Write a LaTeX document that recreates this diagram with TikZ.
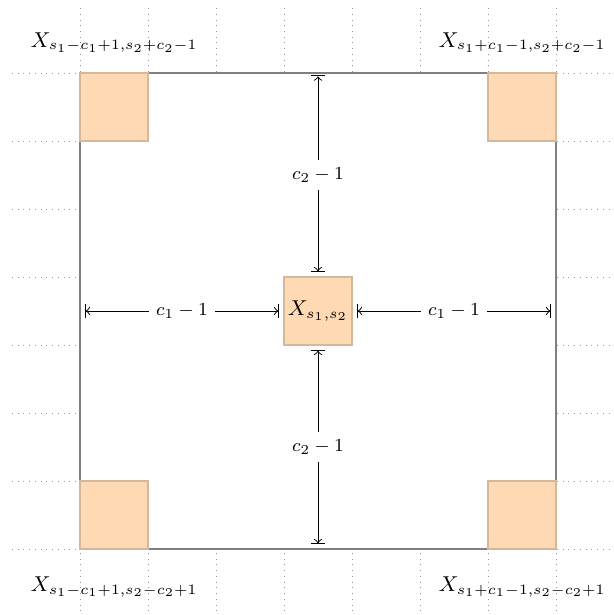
\documentclass[tikz,border=0pt]{standalone}
\usetikzlibrary{arrows}
\definecolor{sqfill}{RGB}{255,217,179}
\definecolor{sqline}{RGB}{212,184,156}
\definecolor{boxline}{RGB}{128,128,128}
\definecolor{gridline}{RGB}{150,150,150}
\begin{document}
\begin{tikzpicture}[x=1cm,y=1cm,
  gridstyle/.style={dotted, draw=gridline, line width=0.4pt},
  outerbox/.style={draw=boxline, fill=white, line width=0.8pt, minimum size=7cm, inner sep=0pt, outer sep=0pt},
  cell/.style={draw=sqline, fill=sqfill, line width=0.5pt, minimum size=1cm, inner sep=0pt, outer sep=0pt},
  dimline/.style={|<->|, >=to, line width=0.4pt, black, shorten <=2pt, shorten >=2pt},
  dimlabel/.style={midway, fill=white, font=\footnotesize, scale=0.96},
  cornerlabel/.style={anchor=base, inner sep=0pt, font=\small}]
\useasboundingbox (-1.1765,-0.9706) rectangle (7.8529,8.0735);
% dotted grid outside the box
\foreach \i in {0,...,7} {
  \draw[gridstyle] (-1,\i) -- (8,\i);
  \draw[gridstyle] (\i,-1) -- (\i,8);
}
% outer box
\node[outerbox] (box) at (3.5,3.5) {};
% cells
\node[cell] (tl) at (0.5,6.5) {};
\node[cell] (tr) at (6.5,6.5) {};
\node[cell] (bl) at (0.5,0.5) {};
\node[cell] (br) at (6.5,0.5) {};
\node[cell, font=\small] (c) at (3.5,3.5) {$X_{s_1,s_2}$};
% edge coordinates
\coordinate (topc) at (3.5,7);
\coordinate (botc) at (3.5,0);
\coordinate (leftc) at (0,3.5);
\coordinate (rightc) at (7,3.5);
% dimension arrows
\draw[dimline, shorten >=1pt] (c.north) -- node[dimlabel] {$c_2-1$} (topc);
\draw[dimline] (c.south) -- node[dimlabel] {$c_2-1$} (botc);
\draw[dimline] (leftc) -- node[dimlabel] {$c_1-1$} (c.west);
\draw[dimline] (c.east) -- node[dimlabel] {$c_1-1$} (rightc);
% corner labels
\node[cornerlabel] (ltl) at (0.5,7.382) {$X_{s_1-c_1+1,s_2+c_2-1}$};
\node[cornerlabel] (ltr) at (6.5,7.382) {$X_{s_1+c_1-1,s_2+c_2-1}$};
\node[cornerlabel] (lbl) at (0.5,-0.628) {$X_{s_1-c_1+1,s_2-c_2+1}$};
\node[cornerlabel] (lbr) at (6.5,-0.628) {$X_{s_1+c_1-1,s_2-c_2+1}$};
\end{tikzpicture}
\end{document}
